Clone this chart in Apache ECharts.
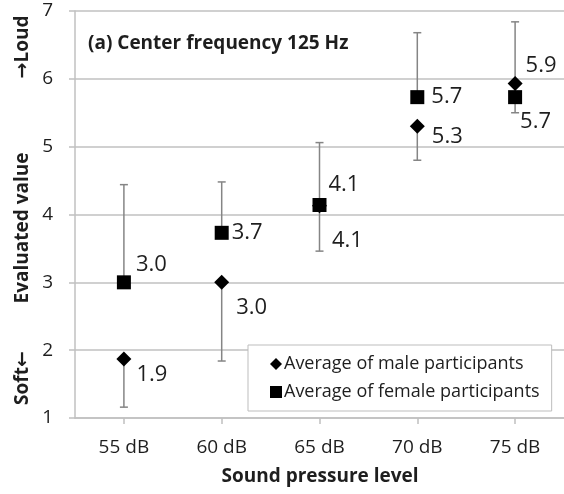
<!DOCTYPE html>
<html>
<head>
<meta charset="utf-8">
<script src="https://cdn.jsdelivr.net/npm/echarts@6/dist/echarts.min.js"></script>
<style>
  html, body { margin: 0; padding: 0; background: #fff; }
  #chart { width: 564px; height: 494px; }
</style>
</head>
<body>
<div id="chart"></div>
<script>
// sound pressure levels
var levels = ['55 dB', '60 dB', '65 dB', '70 dB', '75 dB'];

// male: mean and lower end of the error bar
var maleMean = [1.87, 3.0, 4.13, 5.3, 5.93];
var maleLow = [1.16, 1.84, 3.46, 4.8, 5.5];

// female: mean and upper end of the error bar
var femaleMean = [3.0, 3.73, 4.14, 5.73, 5.73];
var femaleHigh = [4.44, 4.48, 5.06, 6.68, 6.84];

// label offsets (px) so the numbers sit where they do in the figure
var maleLabelOffset = [[0, 16], [2, 25], [0, 35], [2, 10], [-2, -18]];
var femaleLabelOffset = [[0, -18], [-2, 0], [-3, -20], [2, 0], [-7, 25]];

var font = 'Open Sans, sans-serif';
var textColor = '#1e1e1e';
var gridColor = '#c0c0c0';
var barColor = '#858585';

function errorBar(params, api) {
    var x = api.value(0);
    var p0 = api.coord([x, api.value(1)]);
    var p1 = api.coord([x, api.value(2)]);
    var st = { stroke: barColor, lineWidth: 1.5 };
    return {
        type: 'group',
        children: [
            { type: 'line', shape: { x1: p0[0], y1: p0[1], x2: p1[0], y2: p1[1] }, style: st },
            { type: 'line', shape: { x1: p1[0] - 4, y1: p1[1], x2: p1[0] + 4, y2: p1[1] }, style: st }
        ]
    };
}

function points(means, offsets) {
    var out = [];
    for (var i = 0; i < levels.length; i++) {
        out.push({ value: [i, means[i]], label: { offset: offsets[i] } });
    }
    return out;
}

var valueLabel = {
    show: true,
    position: 'right',
    distance: 5,
    fontFamily: font,
    fontSize: 22,
    color: textColor,
    formatter: function (p) { return p.value[1].toFixed(1); }
};

var option = {
    animation: false,
    backgroundColor: '#fff',
    textStyle: { fontFamily: font },
    grid: { left: 75, right: -2, top: 11, bottom: 76 },
    xAxis: {
        type: 'category',
        data: levels,
        boundaryGap: true,
        axisLine: { lineStyle: { color: gridColor, width: 1.5 } },
        axisTick: { show: true, alignWithLabel: true, length: 6, lineStyle: { color: gridColor, width: 1.5 } },
        axisLabel: { margin: 20, fontSize: 19, color: textColor },
        splitLine: { show: false }
    },
    yAxis: {
        type: 'value',
        min: 1,
        max: 7,
        interval: 1,
        axisLine: { show: true, lineStyle: { color: gridColor, width: 1.5 } },
        axisTick: { show: true, length: 6, lineStyle: { color: gridColor, width: 1.5 } },
        axisLabel: { margin: 22, fontSize: 19, color: textColor },
        splitLine: { show: true, lineStyle: { color: gridColor, width: 1.5 } }
    },
    legend: {
        orient: 'vertical',
        left: 248,
        top: 345,
        padding: [8, 12, 8, 22],
        itemGap: 6,
        itemWidth: 12,
        itemHeight: 12,
        backgroundColor: '#fff',
        borderColor: '#bdbdbd',
        borderWidth: 1,
        borderRadius: 0,
        textStyle: { fontFamily: font, fontSize: 18, lineHeight: 22, color: textColor, padding: [0, 0, 0, -3] },
        data: [
            { name: 'Average of male participants', icon: 'diamond' },
            { name: 'Average of female participants', icon: 'rect' }
        ]
    },
    graphic: [
        {
            type: 'text', x: 88, y: 44,
            style: { text: '(a) Center frequency 125 Hz', font: 'bold 19px ' + font, fill: textColor, align: 'left', verticalAlign: 'middle' }
        },
        {
            type: 'text', x: 320, y: 477,
            style: { text: 'Sound pressure level', font: 'bold 19px ' + font, fill: textColor, align: 'center', verticalAlign: 'middle' }
        },
        {
            type: 'text', x: 23, y: 228, rotation: Math.PI / 2,
            style: { text: 'Evaluated value', font: 'bold 19px ' + font, fill: textColor, align: 'center', verticalAlign: 'middle' }
        },
        {
            type: 'text', x: 23, y: 47, rotation: Math.PI / 2,
            style: {
                text: '{a|→}Loud', font: 'bold 19px ' + font, fill: textColor, align: 'center', verticalAlign: 'middle',
                rich: { a: { fontFamily: 'DejaVu Sans', fontSize: 19, fontWeight: 'bold', fill: textColor } }
            }
        },
        {
            type: 'text', x: 23, y: 378, rotation: Math.PI / 2,
            style: {
                text: 'Soft{a|←}', font: 'bold 19px ' + font, fill: textColor, align: 'center', verticalAlign: 'middle',
                rich: { a: { fontFamily: 'DejaVu Sans', fontSize: 19, fontWeight: 'bold', fill: textColor } }
            }
        }
    ],
    series: [
        {
            name: 'maleErr',
            type: 'custom',
            renderItem: errorBar,
            encode: { x: 0, y: [1, 2] },
            z: 1,
            data: levels.map(function (l, i) { return [i, maleMean[i], maleLow[i]]; })
        },
        {
            name: 'femaleErr',
            type: 'custom',
            renderItem: errorBar,
            encode: { x: 0, y: [1, 2] },
            z: 1,
            data: levels.map(function (l, i) { return [i, femaleMean[i], femaleHigh[i]]; })
        },
        {
            name: 'Average of male participants',
            type: 'scatter',
            symbol: 'diamond',
            symbolSize: 15,
            itemStyle: { color: '#000', opacity: 1 },
            z: 3,
            label: valueLabel,
            data: points(maleMean, maleLabelOffset)
        },
        {
            name: 'Average of female participants',
            type: 'scatter',
            symbol: 'rect',
            symbolSize: 14,
            itemStyle: { color: '#000', opacity: 1 },
            z: 4,
            label: valueLabel,
            data: points(femaleMean, femaleLabelOffset)
        }
    ]
};

var myChart = echarts.init(document.getElementById('chart'));
myChart.setOption(option);
</script>
</body>
</html>
